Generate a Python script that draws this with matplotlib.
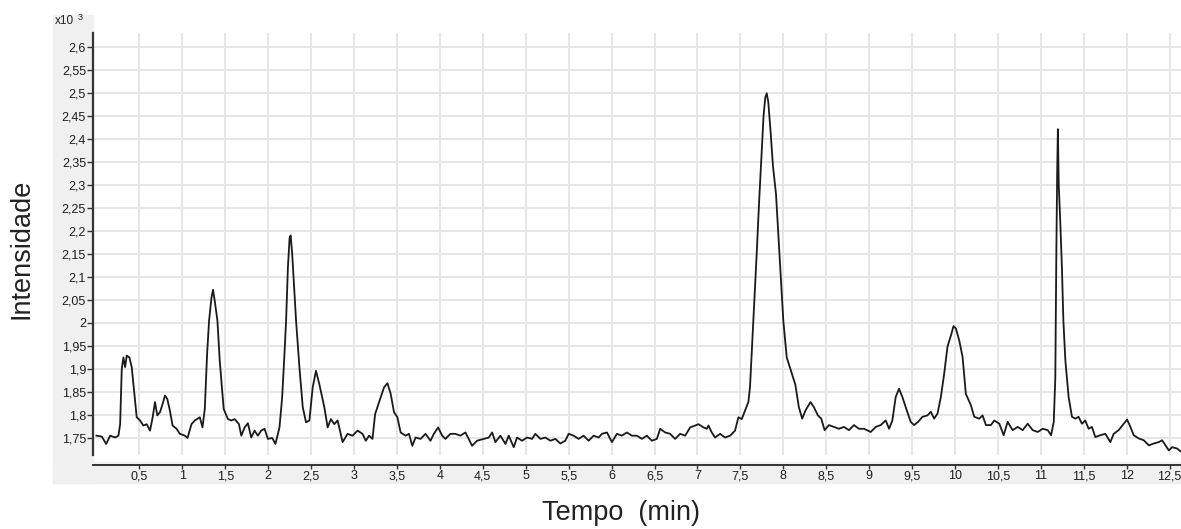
import matplotlib
matplotlib.use("Agg")
import matplotlib.pyplot as plt
from matplotlib.patches import Rectangle
from matplotlib.ticker import FixedLocator, FuncFormatter

# Chromatogram trace: retention time (min) and intensity (x10^3)
tempo_min = [
    0.000, 0.063, 0.113, 0.160, 0.218, 0.256, 0.276, 0.295, 0.314, 0.334,
    0.353, 0.384, 0.411, 0.438, 0.469, 0.508, 0.546, 0.585, 0.624, 0.655,
    0.682, 0.709, 0.740, 0.771, 0.798, 0.825, 0.856, 0.887, 0.933, 0.972,
    1.030, 1.061, 1.107, 1.146, 1.204, 1.235, 1.262, 1.289, 1.312, 1.340,
    1.358, 1.380, 1.409, 1.436, 1.482, 1.532, 1.571, 1.610, 1.660, 1.687,
    1.726, 1.764, 1.803, 1.842, 1.880, 1.919, 1.958, 1.997, 2.047, 2.085,
    2.132, 2.163, 2.190, 2.209, 2.230, 2.250, 2.262, 2.280, 2.305, 2.325,
    2.364, 2.403, 2.441, 2.480, 2.519, 2.557, 2.596, 2.654, 2.693, 2.731,
    2.770, 2.809, 2.867, 2.925, 2.983, 3.041, 3.099, 3.137, 3.176, 3.215,
    3.246, 3.292, 3.350, 3.389, 3.427, 3.466, 3.505, 3.543, 3.601, 3.640,
    3.679, 3.717, 3.775, 3.833, 3.891, 3.930, 3.980, 4.027, 4.065, 4.123,
    4.181, 4.239, 4.297, 4.336, 4.375, 4.433, 4.512, 4.570, 4.609, 4.647,
    4.705, 4.764, 4.802, 4.860, 4.899, 4.957, 5.016, 5.074, 5.112, 5.171,
    5.229, 5.287, 5.345, 5.403, 5.461, 5.500, 5.558, 5.616, 5.674, 5.733,
    5.791, 5.849, 5.888, 5.946, 6.004, 6.062, 6.120, 6.178, 6.236, 6.295,
    6.353, 6.411, 6.469, 6.527, 6.566, 6.624, 6.682, 6.740, 6.798, 6.857,
    6.915, 6.973, 7.012, 7.070, 7.109, 7.128, 7.167, 7.205, 7.264, 7.322,
    7.380, 7.438, 7.477, 7.516, 7.554, 7.593, 7.612, 7.632, 7.651, 7.690,
    7.720, 7.745, 7.770, 7.790, 7.807, 7.825, 7.850, 7.880, 7.915, 7.940,
    7.965, 8.000, 8.040, 8.100, 8.140, 8.181, 8.220, 8.259, 8.317, 8.356,
    8.403, 8.442, 8.481, 8.531, 8.589, 8.648, 8.706, 8.765, 8.823, 8.881,
    8.940, 9.018, 9.076, 9.134, 9.193, 9.232, 9.270, 9.309, 9.348, 9.387,
    9.438, 9.484, 9.523, 9.570, 9.621, 9.679, 9.718, 9.757, 9.796, 9.835,
    9.874, 9.912, 9.959, 9.982, 10.010, 10.049, 10.088, 10.126, 10.185, 10.224,
    10.282, 10.321, 10.360, 10.418, 10.457, 10.516, 10.566, 10.613, 10.671, 10.730,
    10.788, 10.846, 10.905, 10.963, 11.021, 11.080, 11.119, 11.150, 11.168, 11.180,
    11.190, 11.198, 11.208, 11.225, 11.245, 11.262, 11.285, 11.323, 11.362, 11.401,
    11.439, 11.478, 11.517, 11.556, 11.595, 11.634, 11.692, 11.751, 11.809, 11.848,
    11.906, 11.965, 12.004, 12.043, 12.081, 12.140, 12.198, 12.257, 12.315, 12.373,
    12.412, 12.451, 12.490, 12.529, 12.587, 12.626,
]

intensidade = [
    1.755, 1.753, 1.737, 1.755, 1.751, 1.755, 1.780, 1.900, 1.925, 1.904,
    1.929, 1.925, 1.904, 1.853, 1.795, 1.788, 1.777, 1.780, 1.766, 1.795,
    1.828, 1.799, 1.806, 1.824, 1.842, 1.835, 1.809, 1.777, 1.770, 1.759,
    1.755, 1.750, 1.780, 1.788, 1.795, 1.773, 1.813, 1.933, 2.005, 2.055,
    2.072, 2.045, 2.005, 1.918, 1.813, 1.791, 1.788, 1.791, 1.780, 1.755,
    1.773, 1.782, 1.751, 1.766, 1.755, 1.766, 1.770, 1.748, 1.750, 1.737,
    1.773, 1.838, 1.933, 2.005, 2.120, 2.185, 2.190, 2.150, 2.070, 2.005,
    1.904, 1.817, 1.784, 1.788, 1.860, 1.896, 1.867, 1.817, 1.773, 1.791,
    1.780, 1.788, 1.741, 1.759, 1.755, 1.766, 1.759, 1.744, 1.755, 1.748,
    1.802, 1.828, 1.860, 1.869, 1.846, 1.806, 1.795, 1.762, 1.755, 1.759,
    1.733, 1.751, 1.748, 1.759, 1.744, 1.759, 1.773, 1.755, 1.748, 1.759,
    1.759, 1.755, 1.762, 1.748, 1.733, 1.744, 1.748, 1.751, 1.762, 1.741,
    1.755, 1.737, 1.755, 1.730, 1.751, 1.744, 1.751, 1.748, 1.759, 1.748,
    1.751, 1.744, 1.748, 1.738, 1.744, 1.759, 1.755, 1.748, 1.755, 1.744,
    1.755, 1.751, 1.759, 1.762, 1.741, 1.759, 1.755, 1.762, 1.755, 1.755,
    1.748, 1.755, 1.744, 1.748, 1.770, 1.762, 1.759, 1.748, 1.759, 1.755,
    1.773, 1.777, 1.780, 1.773, 1.770, 1.777, 1.762, 1.751, 1.759, 1.751,
    1.755, 1.766, 1.795, 1.791, 1.809, 1.828, 1.860, 1.933, 2.005, 2.150,
    2.270, 2.360, 2.450, 2.490, 2.499, 2.480, 2.420, 2.340, 2.280, 2.200,
    2.120, 2.005, 1.925, 1.890, 1.866, 1.817, 1.792, 1.810, 1.828, 1.817,
    1.799, 1.792, 1.767, 1.778, 1.774, 1.770, 1.774, 1.767, 1.778, 1.770,
    1.770, 1.763, 1.774, 1.778, 1.788, 1.770, 1.788, 1.839, 1.857, 1.839,
    1.810, 1.785, 1.778, 1.785, 1.796, 1.799, 1.807, 1.792, 1.803, 1.839,
    1.890, 1.948, 1.977, 1.993, 1.988, 1.962, 1.926, 1.846, 1.821, 1.796,
    1.792, 1.799, 1.778, 1.778, 1.788, 1.781, 1.756, 1.785, 1.767, 1.774,
    1.767, 1.781, 1.767, 1.763, 1.770, 1.767, 1.756, 1.785, 1.880, 2.150,
    2.330, 2.421, 2.300, 2.224, 2.120, 2.005, 1.919, 1.839, 1.796, 1.792,
    1.796, 1.781, 1.788, 1.770, 1.774, 1.752, 1.756, 1.759, 1.741, 1.759,
    1.767, 1.781, 1.790, 1.774, 1.756, 1.749, 1.745, 1.734, 1.738, 1.741,
    1.745, 1.734, 1.723, 1.730, 1.727, 1.721,
]

x_ticks = [0.5 * k for k in range(1, 26)]          # 0,5 ... 12,5
y_ticks = [1.75 + 0.05 * k for k in range(0, 18)]  # 1,75 ... 2,6

plt.rcParams["font.family"] = ["Liberation Sans", "DejaVu Sans"]

W, H = 1181, 529
fig = plt.figure(figsize=(W / 100, H / 100), dpi=100)

# light panel behind the tick labels (kept beneath the axes)
panel = "#f0f0f0"
fig.patches.append(Rectangle((53 / W, 1 - 483 / H), (93 - 53) / W, (483 - 15) / H,
                             transform=fig.transFigure, color=panel, zorder=-5))
fig.patches.append(Rectangle((53 / W, 1 - 483 / H), (W - 53) / W, (483 - 462) / H,
                             transform=fig.transFigure, color=panel, zorder=-5))

ax_left, ax_right, ax_top, ax_bottom = 93, 1181, 33, 455
ax = fig.add_axes([ax_left / W, 1 - ax_bottom / H,
                   (ax_right - ax_left) / W, (ax_bottom - ax_top) / H])
ax.set_facecolor("white")

ax.plot(tempo_min, intensidade, color="#1a1a1a", lw=1.3, zorder=3)

ax.set_xlim(-0.04, 12.632)
ax.set_ylim(1.713, 2.630)

ax.xaxis.set_major_locator(FixedLocator(x_ticks))
ax.yaxis.set_major_locator(FixedLocator(y_ticks))
fmt = FuncFormatter(lambda v, _: f"{round(v, 2):g}".replace(".", ","))
ax.xaxis.set_major_formatter(fmt)
ax.yaxis.set_major_formatter(fmt)

ax.grid(True, color="#e6e6e6", lw=1.4, zorder=0)
ax.set_axisbelow(True)

for side in ("top", "right"):
    ax.spines[side].set_visible(False)
ax.spines["left"].set_color("#333333")
ax.spines["left"].set_linewidth(1.6)
ax.spines["bottom"].set_color("#333333")
ax.spines["bottom"].set_linewidth(1.4)
ax.spines["bottom"].set_position(("outward", 7))

ax.tick_params(axis="y", direction="out", length=4, width=1, color="#333333",
               labelsize=9, labelcolor="#1e1e1e", pad=1)
ax.tick_params(axis="x", direction="out", length=3, width=1, color="#333333",
               labelsize=9, labelcolor="#1e1e1e", pad=1)

# exponent marker above the intensity axis
fig.text(55 / W, 1 - 21 / H, "x10", fontsize=8.5, color="#222222", va="center", ha="left")
fig.text(78 / W, 1 - 18 / H, "3", fontsize=6.5, color="#222222", va="center", ha="left")

fig.text(22 / W, 1 - 249 / H, "Intensidade", rotation=90, fontsize=19.5,
         color="#222222", ha="center", va="center")
fig.text(621 / W, 1 - 513 / H, "Tempo  (min)", fontsize=19.5,
         color="#222222", ha="center", va="center")

fig.savefig("out.png", dpi=100)
